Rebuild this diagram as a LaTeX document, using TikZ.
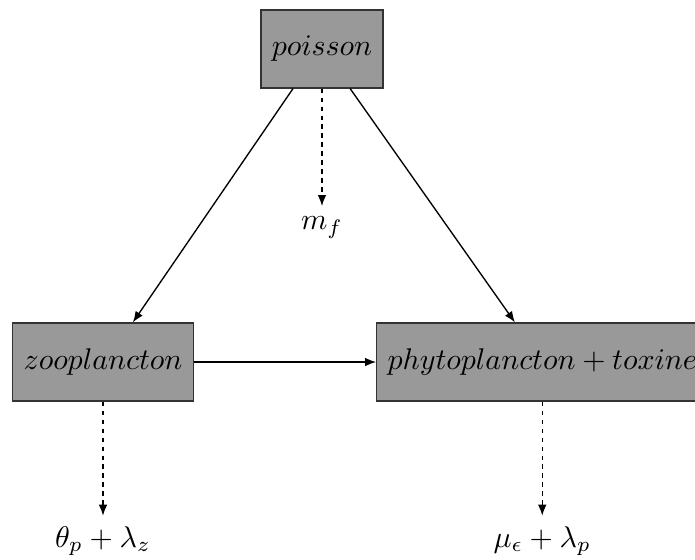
\documentclass[tikz,border=0pt]{standalone}
\usetikzlibrary{arrows.meta,positioning}

\begin{document}
\begin{tikzpicture}[
    >={Latex[length=1.3mm,width=1mm]},
    box/.style={rectangle, draw=black!80, fill=black!40, minimum height=0.915cm, inner xsep=3.6pt},
    lbl/.style={inner sep=3.33pt},
    flow/.style={->, line width=0.45pt},
    loss/.style={->, line width=0.45pt, dash pattern=on 1.5pt off 1.5pt}
]
\useasboundingbox (0,0) rectangle (8.157,-6.572);
\node[box] (poisson) at (3.779,-0.575) {$poisson$};
\node[box] (zoo) at (1.209,-4.249) {$zooplancton$};
\node[box, right=2.14cm of zoo] (phyto) {$phytoplancton + toxine$};
\node[lbl, below=1.38cm of poisson] (mf) {$m_f$};
\node[lbl, below=1.34cm of zoo] (pertez) {$\theta_p + \lambda_z$};
\node[lbl, below=1.34cm of phyto] (pertep) {$\mu_\epsilon + \lambda_p$};
\draw[flow] ([xshift=-0.34cm]poisson.south) -- ([xshift=0.35cm]zoo.north);
\draw[flow] ([xshift=0.33cm]poisson.south) -- ([xshift=-0.32cm]phyto.north);
\draw[flow] (zoo) -- (phyto);
\draw[loss] (poisson) -- (mf);
\draw[loss] (zoo) -- (pertez);
\draw[loss] (phyto) -- (pertep);
\end{tikzpicture}
\end{document}
